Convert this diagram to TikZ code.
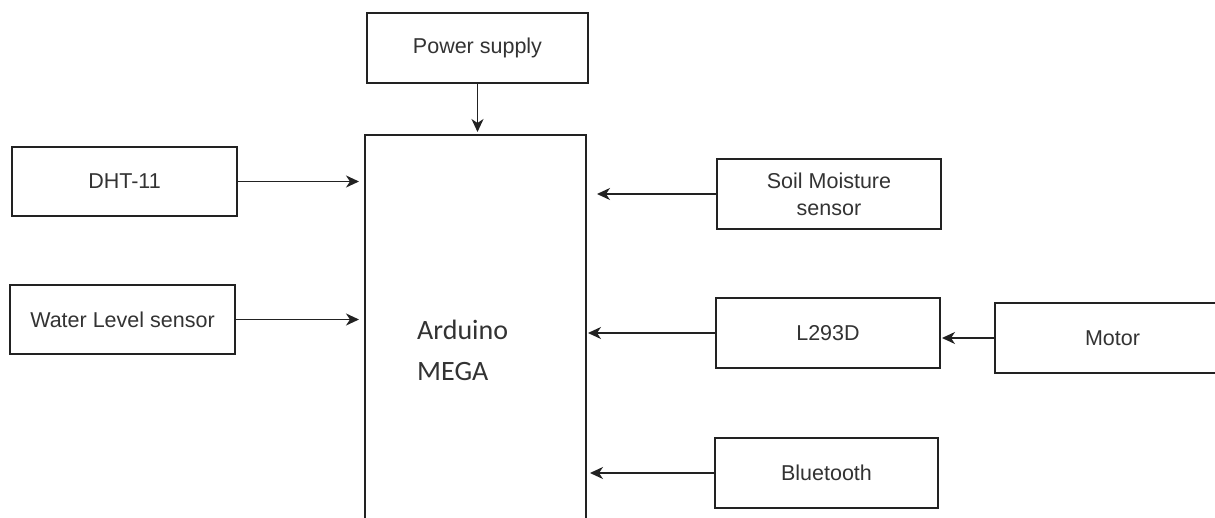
\documentclass[tikz,border=0pt]{standalone}
\usepackage{fontspec}
\setmainfont{Liberation Sans}
\newfontfamily\calfont{Carlito}
\usetikzlibrary{arrows.meta}
\definecolor{ink}{HTML}{222222}
\definecolor{txt}{HTML}{333333}
\tikzset{
  blockbox/.style={draw=ink, line width=2pt, rectangle, inner sep=0pt, text=txt,
    font=\fontsize{21.5}{27}\selectfont, align=center, minimum height=70pt},
  conn/.style={draw=ink, line width=1.8pt, -{Stealth[length=13pt,width=12pt,inset=4pt]}},
  ardtext/.style={text=txt, font=\calfont\fontsize{28}{40}\selectfont, inner sep=0pt, anchor=base west},
}
\begin{document}
\begin{tikzpicture}[x=1pt,y=-1pt]
\clip (0,0) rectangle (1215,518);
\fill[white] (0,0) rectangle (1215,518);
\node[blockbox, minimum width=221pt] (power) at (477.5,48) {Power supply};
\node[blockbox, minimum width=221pt, minimum height=410pt] (ard) at (475.5,340) {};
\node[ardtext] (ardA) at (417,340) {Arduino};
\node[ardtext] (ardB) at (417,381) {MEGA};
\node[blockbox, minimum width=225pt, minimum height=69pt] (dht) at (124.5,181.5) {DHT-11};
\node[blockbox, minimum width=225pt, minimum height=69pt] (water) at (122.5,319.5) {Water Level sensor};
\node[blockbox, minimum width=224pt] (soil) at (829,194) {Soil Moisture\\sensor};
\node[blockbox, minimum width=224pt] (l293) at (828,333) {L293D};
\node[blockbox, minimum width=235pt] (motor) at (1112.5,338) {Motor};
\node[blockbox, minimum width=223pt] (bt) at (826.5,473) {Bluetooth};
\draw[conn] (power.south) -- ([yshift=2pt]power.south |- ard.north);
\draw[conn] (dht.east) -- ([xshift=-5pt]dht.east -| ard.west);
\draw[conn] (water.east) -- ([xshift=-5pt]water.east -| ard.west);
\draw[conn] (soil.west) -- ([xshift=10pt]soil.west -| ard.east);
\draw[conn] (l293.west) -- ([xshift=1pt]l293.west -| ard.east);
\draw[conn] (motor.west) -- ([xshift=1pt]motor.west -| l293.east);
\draw[conn] (bt.west) -- ([xshift=3pt]bt.west -| ard.east);
\end{tikzpicture}
\end{document}
